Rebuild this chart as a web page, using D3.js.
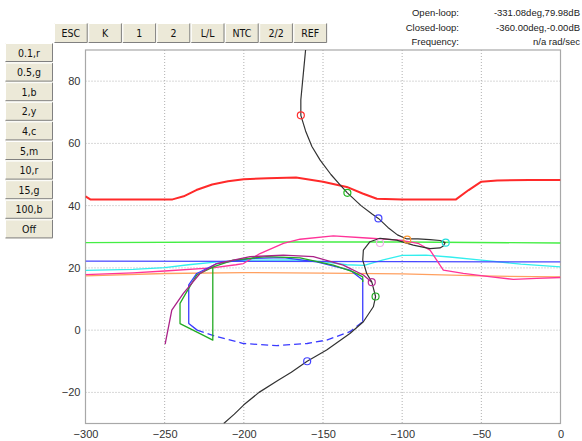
<!DOCTYPE html>
<html>
<head>
<meta charset="utf-8">
<script src="https://cdn.jsdelivr.net/npm/d3@7"></script>
<style>
  html, body { margin: 0; padding: 0; background: #ffffff; }
  svg { display: block; }
</style>
</head>
<body>
<svg id="chart" width="582" height="441"></svg>
<script>
// ---- data (phase in degrees, gain in dB) ----
const xTicks = [-300, -250, -200, -150, -100, -50, 0];
const yTicks = [-20, 0, 20, 40, 60, 80];

const topButtons = ["ESC", "K", "1", "2", "L/L", "NTC", "2/2", "REF"];
const sideButtons = ["0.1,r", "0.5,g", "1,b", "2,y", "4,c", "5,m", "10,r", "15,g", "100,b", "Off"];

const infoLabels = ["Open-loop:", "Closed-loop:", "Frequency:"];
const infoValues = ["-331.08deg,79.98dB", "-360.00deg,-0.00dB", "n/a rad/sec"];

// open-loop Nichols trace
const openLoop = [
  [-161, 90], [-162.5, 82], [-164, 74], [-164, 69], [-161, 64], [-157, 59],
  [-151.8, 54.6], [-145, 50], [-139.5, 46.8], [-134.6, 44.1], [-126, 40], [-119, 37.3],
  [-115, 35.9], [-109, 33], [-103, 30.6], [-97, 29.3], [-90, 29.3], [-82.4, 29.1],
  [-76, 28.8], [-72.9, 28.1], [-74, 27], [-76.1, 26.4], [-82.4, 26.2], [-93, 27.3],
  [-103.5, 28.9], [-114, 29.5], [-120.3, 28.4], [-124.5, 25.7], [-124.9, 22.5],
  [-122.4, 18.2], [-119.2, 15.5], [-116.8, 10.8], [-118.2, 7.5], [-124.5, 2.7],
  [-133, -1.1], [-147.7, -6.4], [-160, -10], [-170, -13.5], [-178.3, -16.1],
  [-190.4, -20], [-200, -24], [-206, -27], [-212.7, -30]
];

// M-circle style contours
const redContour = [
  [-300, 43], [-297, 42], [-245, 42], [-238, 43], [-230, 45], [-220, 46.8], [-210, 47.8],
  [-200, 48.5], [-185, 48.8], [-167, 49], [-150, 47.7], [-135, 46], [-125, 43.9],
  [-116, 42.2], [-100, 42], [-80, 42], [-66, 42], [-58, 45], [-50, 47.7], [-40, 48.1],
  [-20, 48.2], [0, 48.2]
];
const greenLine = [[-300, 28.1], [-200, 28.3], [-100, 28.3], [0, 28.0]];
const blueLine = [[-300, 22.2], [-200, 22.1], [-100, 22.0], [0, 21.9]];
const cyanLine = [
  [-300, 19.2], [-270, 19.5], [-250, 20.1], [-235, 21], [-215, 22], [-195, 22.5],
  [-170, 22.6], [-150, 22], [-135, 21], [-124, 20.8], [-112, 22.6], [-100, 24],
  [-85, 24.1], [-70, 23.5], [-50, 22.5], [-25, 21.2], [0, 20.3]
];
const orangeLine = [
  [-300, 17.4], [-250, 18.2], [-200, 18.5], [-150, 18.3], [-100, 18.1], [-50, 17.4], [0, 17.1]
];
const pinkLine = [
  [-300, 17.8], [-270, 18.4], [-250, 19], [-220, 20], [-205, 21], [-200.3, 21.4],
  [-189.8, 24.6], [-175, 27.9], [-164.5, 29.2], [-143.5, 30.3], [-122.4, 29.6],
  [-101.4, 28.9], [-90, 27.9], [-82.4, 25.7], [-78.2, 22.5], [-74, 19.3], [-61.4, 18.2],
  [-45, 17.2], [-29.8, 16.3], [-15, 16.6], [0, 16.9]
];

// closed-loop traces for the controller settings
const purpleTrace = [
  [-249.7, -4.5], [-245.5, 6.4], [-238.2, 11.8], [-227.7, 18.2], [-217.1, 21.4],
  [-196.1, 23.6], [-175.1, 24.1], [-156.1, 23.6], [-137.2, 20.9], [-124.5, 17.7],
  [-119.2, 15.4]
];
const greenTrace = [
  [-124.9, 15.5], [-124.9, 17.1], [-130.9, 18.7], [-143.5, 20.9], [-164.5, 23.2],
  [-185.6, 23.6], [-206.7, 22.5], [-219.3, 20.3], [-229.7, 17.7], [-236.1, 12.3],
  [-240.3, 8.6], [-240.3, 2.1], [-227.7, -1.1], [-219.6, -3.2], [-219.6, 20.3]
];
const blueTraceTop = [
  [-124.9, 2.7], [-124.9, 16.1], [-133, 19.3], [-154, 21.9], [-175.1, 23.3],
  [-196.1, 23], [-217.1, 21.4], [-229.7, 18.2], [-234.8, 14.5], [-234.8, 2.1], [-229.5, 0]
];
const blueTraceBottom = [
  [-229.5, 0], [-217.1, -2.1], [-200.3, -4.3], [-179.3, -5], [-160, -4.3],
  [-147.7, -3.2], [-133, -0.5], [-124.9, 2.7]
];

// frequency markers on the traces
const markerPts = [
  { x: -164, y: 69, c: "#ff3030" },
  { x: -134.6, y: 44.1, c: "#22bb22" },
  { x: -115, y: 35.9, c: "#4444ff" },
  { x: -96.8, y: 29.1, c: "#ff9933" },
  { x: -72.5, y: 28.1, c: "#22dddd" },
  { x: -114, y: 28, c: "#f0b0e8" },
  { x: -119.2, y: 15.4, c: "#bb3399" },
  { x: -116.8, y: 10.8, c: "#22aa22" },
  { x: -160, y: -10, c: "#4444ff" }
];

// ---- layout ----
const svg = d3.select("#chart");
const plot = { left: 85.5, right: 560.5, top: 50, bottom: 423.5 };

const x = d3.scaleLinear().domain([-300, 0]).range([plot.left, plot.right]);
const y = d3.scaleLinear().domain([-30, 90]).range([plot.bottom, plot.top]);

svg.append("defs").append("clipPath").attr("id", "plotClip")
  .append("rect")
  .attr("x", plot.left).attr("y", plot.top)
  .attr("width", plot.right - plot.left).attr("height", plot.bottom - plot.top);

// grid
const grid = svg.append("g");
grid.selectAll("line.vx").data(xTicks.slice(1, -1)).join("line")
  .attr("x1", d => x(d)).attr("x2", d => x(d))
  .attr("y1", plot.top).attr("y2", plot.bottom)
  .attr("stroke", "#b0b0b0").attr("stroke-width", 1).attr("stroke-dasharray", "1,2");
grid.selectAll("line.hy").data(yTicks).join("line")
  .attr("x1", plot.left).attr("x2", plot.right)
  .attr("y1", d => y(d)).attr("y2", d => y(d))
  .attr("stroke", "#b0b0b0").attr("stroke-width", 1).attr("stroke-dasharray", "1,2");

// axes
const xAxis = svg.append("g").attr("transform", `translate(0,${plot.bottom})`)
  .call(d3.axisBottom(x).tickValues(xTicks).tickSize(0).tickPadding(7).tickFormat(d3.format("d")));
const yAxis = svg.append("g").attr("transform", `translate(${plot.left},0)`)
  .call(d3.axisLeft(y).tickValues(yTicks).tickSize(0).tickPadding(5).tickFormat(d3.format("d")));
[xAxis, yAxis].forEach(a => {
  a.select(".domain").remove();
  a.selectAll("text").attr("fill", "#333").style("font-family", "Arial, 'Liberation Sans', sans-serif").style("font-size", "11px");
});

// frame
svg.append("rect")
  .attr("x", plot.left).attr("y", plot.top)
  .attr("width", plot.right - plot.left).attr("height", plot.bottom - plot.top)
  .attr("fill", "none").attr("stroke", "#a8a8a8").attr("stroke-width", 1.2);

// traces
const line = d3.line().x(d => x(d[0])).y(d => y(d[1]));
const traces = svg.append("g").attr("clip-path", "url(#plotClip)");

function draw(data, color, width, dash) {
  traces.append("path").datum(data)
    .attr("d", line)
    .attr("fill", "none")
    .attr("stroke", color)
    .attr("stroke-width", width)
    .attr("stroke-linejoin", "round")
    .attr("stroke-dasharray", dash || null);
}

draw(orangeLine, "#ffa060", 1.3);
draw(cyanLine, "#33eeee", 1.3);
draw(blueLine, "#4848ff", 1.3);
draw(greenLine, "#44ee44", 1.4);
draw(pinkLine, "#ff3399", 1.3);
draw(redContour, "#ff2a2a", 2);
draw(blueTraceTop, "#3a3aff", 1.3);
draw(blueTraceBottom, "#3a3aff", 1.3, "7,4");
draw(greenTrace, "#22aa22", 1.3);
draw(purpleTrace, "#aa2288", 1.3);
draw(openLoop, "#333333", 1.2);

traces.selectAll("circle.mk").data(markerPts).join("circle")
  .attr("cx", d => x(d.x)).attr("cy", d => y(d.y)).attr("r", 3.5)
  .attr("fill", "none").attr("stroke", d => d.c).attr("stroke-width", 1.2);

// ---- button strips ----
const btnFace = "#ece9d8";
function button(g, bx, by, bw, bh, label) {
  g.append("rect").attr("x", bx).attr("y", by).attr("width", bw).attr("height", bh)
    .attr("fill", btnFace);
  // raised edges
  g.append("path").attr("d", `M${bx + 0.5},${by + bh - 0.5}V${by + 0.5}H${bx + bw - 0.5}`)
    .attr("fill", "none").attr("stroke", "#ffffff").attr("stroke-width", 1);
  g.append("path").attr("d", `M${bx + 0.5},${by + bh - 0.5}H${bx + bw - 0.5}V${by + 0.5}`)
    .attr("fill", "none").attr("stroke", "#808080").attr("stroke-width", 1);
  g.append("text").attr("x", bx + bw / 2).attr("y", by + bh / 2 + 4)
    .attr("text-anchor", "middle")
    .attr("fill", "#111")
    .style("font-family", "'DejaVu Sans Condensed', 'DejaVu Sans', sans-serif")
    .style("font-size", "10.5px")
    .text(label);
}

const topG = svg.append("g");
const topW = 34.2;
topButtons.forEach((b, i) => button(topG, 54 + i * topW, 23, topW - 0.5, 20, b));

const sideG = svg.append("g");
sideButtons.forEach((b, i) => button(sideG, 5, 43 + i * 19.6, 48, 19, b));

// ---- readout ----
const info = svg.append("g")
  .style("font-family", "Arial, 'Liberation Sans', sans-serif")
  .style("font-size", "9.5px").attr("fill", "#222");
info.selectAll("text.lbl").data(infoLabels).join("text")
  .attr("x", 459).attr("y", (d, i) => 16 + i * 14.5).attr("text-anchor", "end").text(d => d);
info.selectAll("text.val").data(infoValues).join("text")
  .attr("x", 580).attr("y", (d, i) => 16 + i * 14.5).attr("text-anchor", "end").text(d => d);
</script>
</body>
</html>
